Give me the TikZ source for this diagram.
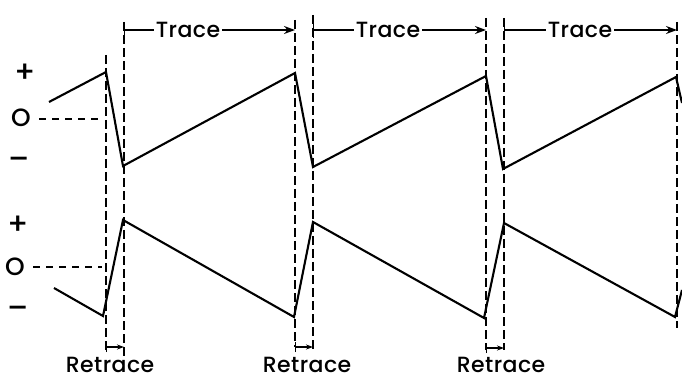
\documentclass[tikz,border=0pt]{standalone}
\usepackage{fontspec}
\setmainfont{Poppins}
\newfontfamily\tagfont{Poppins Medium}[LetterSpace=2]
\usetikzlibrary{arrows.meta}

\begin{document}
\begin{tikzpicture}[
    x=1pt, y=-1pt,
    wave/.style={line width=2.1pt, line join=miter},
    guide/.style={line width=1.3pt, dash pattern=on 9pt off 4pt},
    zeroline/.style={line width=1.3pt, dash pattern=on 7pt off 6pt},
    dimline/.style={line width=1.3pt},
    level/.style={font=\fontsize{25}{25}\tagfont, inner sep=0pt},
    bigmark/.style={level, font=\fontsize{30}{30}\tagfont},
    tag/.style={font=\fontsize{22}{22}\tagfont, inner sep=2pt},
]
\useasboundingbox (0,0) rectangle (682,379);

% ================== Level marks ==================
\node[bigmark] (plusA) at (25,73) {+};
\node[level] (zeroA) at (21,118) {O};
\node[bigmark] (minusA) at (19,163) {\textendash};
\node[bigmark] (plusB) at (18,225) {+};
\node[level] (zeroB) at (15,267) {O};
\node[bigmark] (minusB) at (18,312) {\textendash};

\coordinate (zA) at (102,119);
\coordinate (zB) at (102,267);
\draw[zeroline] ([xshift=8pt]zeroA.east |- zA) -- (zA);
\draw[zeroline] ([xshift=8pt]zeroB.east |- zB) -- (zB);

% ================== Sawtooth waves ==================
\draw[wave] (49,102) -- (106,72) -- (123,166) -- (295,73) -- (313,167)
    -- (486,76) -- (503,169) -- (676,77) -- (682,103);
\draw[wave] (54,288) -- (103,316) -- (123,220) -- (294,317) -- (313,222)
    -- (484,318) -- (504,223) -- (675,317) -- (682,290);

% ================== Guide lines ==================
\coordinate (g1a) at (106,55);  \coordinate (g1b) at (124,22);
\coordinate (g2a) at (295,20);  \coordinate (g2b) at (313,15);
\coordinate (g3a) at (486,18);  \coordinate (g3b) at (504,18);
\coordinate (g4) at (677,22);

\draw[guide] (g1a) -- (106,350);
\draw[guide] (g1b) -- (124,357);
\draw[guide] (g2a) -- (295,347);
\draw[guide] (g2b) -- (313,350);
\draw[guide] (g3a) -- (486,350);
\draw[guide] (g3b) -- (504,350);
\draw[guide] (g4) -- (677,328);

% ================== Trace ==================
\node[tag] (trace1) at (188,30) {Trace};
\node[tag] (trace2) at (388,30) {Trace};
\node[tag] (trace3) at (580,30) {Trace};

\draw[dimline, {Bar[width=16pt]}-] (124,30) -- (trace1.west);
\draw[dimline, -{Stealth[length=11pt, width=8pt]}] (trace1.east) -- (295,30);
\draw[dimline, {Bar[width=16pt]}-] (313,30) -- (trace2.west);
\draw[dimline, -{Stealth[length=11pt, width=8pt]}] (trace2.east) -- (486,30);
\draw[dimline, {Bar[width=16pt]}-] (504,30) -- (trace3.west);
\draw[dimline, -{Stealth[length=11pt, width=8pt]}] (trace3.east) -- (677,30);

% ================== Retrace ==================
\node[tag] (retrace1) at (110,365) {Retrace};
\node[tag] (retrace2) at (307,365) {Retrace};
\node[tag] (retrace3) at (501,365) {Retrace};

\draw[dimline, {Bar[width=10pt]}-{Stealth[length=7pt, width=5pt]}] (106,347) -- (124,347);
\draw[dimline, {Bar[width=10pt]}-{Stealth[length=7pt, width=5pt]}] (295,347) -- (313,347);
\draw[dimline, {Bar[width=10pt]}-{Stealth[length=7pt, width=5pt]}] (486,348) -- (504,348);

\end{tikzpicture}
\end{document}
